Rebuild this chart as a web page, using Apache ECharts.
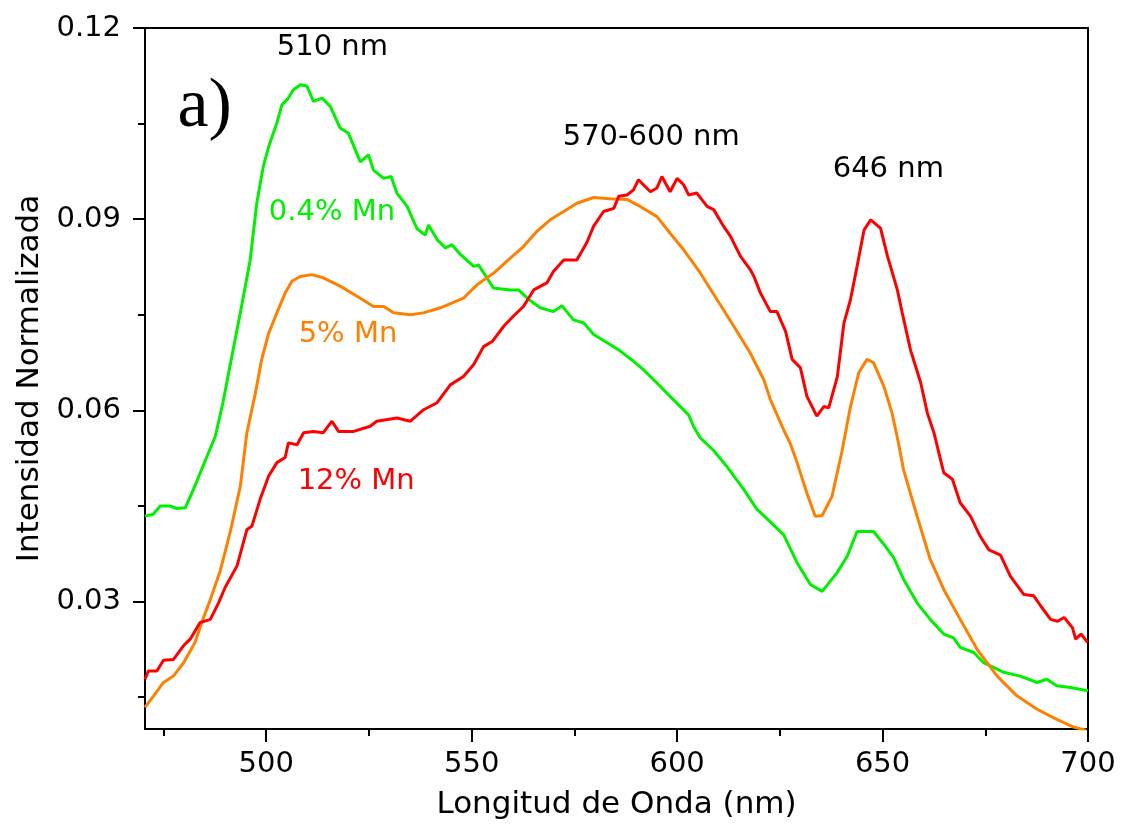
<!DOCTYPE html>
<html>
<head>
<meta charset="utf-8">
<title>Intensidad Normalizada vs Longitud de Onda</title>
<script src="https://cdn.jsdelivr.net/npm/echarts@6/dist/echarts.min.js"></script>
<style>
  html, body { margin: 0; padding: 0; background: #fff; }
  #chart { width: 1122px; height: 825px; }
</style>
</head>
<body>
<div id="chart"></div>
<script>
// Emission spectra for three Mn concentrations (wavelength in nm, normalized intensity)
const greenNm = [470.5,472.5,474.2,476.6,478.2,480.3,482.3,485.6,487.6,489.4,491.5,493.7,496.1,497.7,499.3,500.6,502.6,503.8,505.4,506.6,508.3,509.9,511.5,513.6,515.6,518.0,520.0,522.9,524.9,526.1,528.6,530.4,531.8,534.3,536.7,538.7,539.5,541.6,543.6,545.2,547.2,550.5,551.7,553.7,555.3,559.4,561.4,563.9,566.7,569.9,572.0,574.8,577.3,579.7,583.0,586.2,589.4,591.8,595.1,598.3,602.8,604.0,605.6,608.9,612.1,616.2,619.4,622.7,625.9,629.2,632.4,635.3,638.9,641.4,643.8,646.2,647.8,650.3,652.7,655.1,658.4,661.6,664.9,667.3,668.9,672.2,674.6,679.5,683.5,687.6,690.0,692.4,695.7,700.0];
const greenVal = [0.0434,0.0437,0.0450,0.0450,0.0446,0.0447,0.0476,0.0528,0.0559,0.0610,0.0680,0.0753,0.0836,0.0925,0.0983,0.1014,0.1051,0.1079,0.1090,0.1103,0.1111,0.1109,0.1085,0.1090,0.1077,0.1043,0.1035,0.0990,0.1001,0.0977,0.0964,0.0967,0.0941,0.0920,0.0885,0.0875,0.0891,0.0868,0.0855,0.0860,0.0845,0.0826,0.0828,0.0808,0.0792,0.0789,0.0789,0.0774,0.0761,0.0755,0.0764,0.0742,0.0737,0.0719,0.0706,0.0693,0.0677,0.0664,0.0643,0.0622,0.0593,0.0575,0.0557,0.0537,0.0512,0.0476,0.0445,0.0425,0.0405,0.0361,0.0327,0.0316,0.0345,0.0371,0.0410,0.0410,0.0410,0.0390,0.0369,0.0335,0.0298,0.0272,0.0249,0.0243,0.0228,0.0220,0.0204,0.0189,0.0183,0.0173,0.0178,0.0168,0.0165,0.0160];

const orangeNm = [470.5,472.6,475.0,477.4,479.9,482.7,484.3,486.4,488.8,491.2,493.7,495.3,497.3,498.9,500.6,502.6,504.6,506.3,508.3,511.1,513.9,518.0,522.1,526.1,528.6,531.0,535.1,538.3,542.4,545.0,548.0,551.3,555.3,559.4,562.6,565.9,569.1,572.4,575.6,579.7,583.7,587.8,591.0,595.1,598.3,601.6,605.6,609.7,613.8,617.8,621.1,622.7,625.9,627.6,629.2,631.6,633.6,635.3,637.7,640.1,642.2,644.2,646.2,647.8,650.3,652.3,653.9,655.1,658.4,661.6,664.9,668.9,673.0,677.9,682.7,687.6,692.4,696.5,699.5];
const orangeVal = [0.0134,0.0152,0.0173,0.0183,0.0204,0.0236,0.0267,0.0303,0.0348,0.0408,0.0481,0.0565,0.0625,0.0680,0.0721,0.0753,0.0784,0.0803,0.0810,0.0813,0.0808,0.0795,0.0779,0.0763,0.0763,0.0753,0.0750,0.0753,0.0761,0.0768,0.0776,0.0797,0.0815,0.0839,0.0857,0.0881,0.0899,0.0912,0.0925,0.0934,0.0932,0.0931,0.0920,0.0904,0.0878,0.0852,0.0816,0.0774,0.0732,0.0690,0.0648,0.0617,0.0570,0.0547,0.0518,0.0470,0.0434,0.0435,0.0465,0.0535,0.0606,0.0659,0.0680,0.0675,0.0638,0.0596,0.0548,0.0507,0.0434,0.0366,0.0319,0.0272,0.0225,0.0183,0.0152,0.0131,0.0115,0.0103,0.0098];

const redNm = [470.5,471.3,473.4,475.0,477.4,479.9,481.5,483.9,486.4,488.4,490.0,492.9,495.3,496.5,498.5,500.6,502.6,504.6,505.4,507.5,509.1,511.5,513.9,516.0,517.6,521.3,525.3,526.9,531.8,535.1,538.3,541.6,544.8,548.0,550.5,552.9,555.0,557.8,560.2,562.6,565.1,568.3,569.9,572.4,575.6,578.0,579.7,582.1,584.6,585.8,587.8,589.4,590.6,591.8,593.5,595.1,596.3,598.3,600.0,601.6,602.8,604.8,607.3,608.9,611.3,613.0,615.4,617.8,618.7,620.3,622.7,624.3,626.4,628.0,630.0,631.6,634.0,635.7,636.9,639.0,640.6,642.2,643.8,645.5,647.1,649.5,651.2,653.6,654.8,656.8,659.3,660.9,662.5,664.9,667.0,668.9,671.4,673.8,675.9,678.7,681.1,684.4,686.8,688.5,690.9,692.6,694.2,696.2,697.0,698.3,699.9];
const redVal = [0.0178,0.0191,0.0191,0.0208,0.0209,0.0231,0.0241,0.0267,0.0272,0.0298,0.0322,0.0356,0.0413,0.0418,0.0460,0.0497,0.0518,0.0526,0.0549,0.0546,0.0565,0.0567,0.0565,0.0583,0.0567,0.0567,0.0575,0.0583,0.0588,0.0583,0.0601,0.0612,0.0640,0.0653,0.0672,0.0700,0.0708,0.0732,0.0748,0.0763,0.0789,0.0800,0.0818,0.0836,0.0836,0.0863,0.0889,0.0912,0.0917,0.0936,0.0938,0.0946,0.0962,0.0954,0.0943,0.0949,0.0967,0.0943,0.0964,0.0954,0.0938,0.0941,0.0920,0.0915,0.0889,0.0873,0.0842,0.0821,0.0810,0.0784,0.0755,0.0755,0.0724,0.0680,0.0667,0.0622,0.0591,0.0606,0.0604,0.0653,0.0737,0.0774,0.0826,0.0883,0.0899,0.0886,0.0842,0.0789,0.0753,0.0695,0.0643,0.0596,0.0565,0.0502,0.0492,0.0455,0.0434,0.0402,0.0381,0.0373,0.0340,0.0311,0.0309,0.0293,0.0272,0.0269,0.0275,0.0259,0.0241,0.0249,0.0236];

// Axis ticks
const xMajorTicks = [500, 550, 600, 650, 700];
const xMinorTicks = [475, 525, 575, 625, 675];
const yMajorTicks = [0.03, 0.06, 0.09, 0.12];
const yMinorTicks = [0.015, 0.045, 0.075, 0.105];

// Peak and series annotations, anchored in data coordinates
const annoText = ['510 nm', '570-600 nm', '646 nm', '0.4% Mn', '5% Mn', '12% Mn', 'a)'];
const annoNm   = [516.1, 593.7, 651.4, 516.0, 519.9, 521.9, 485.0];
const annoVal  = [0.1170, 0.1028, 0.0978, 0.0911, 0.0719, 0.0489, 0.1075];

const COLORS = { green: '#00f000', orange: '#ff8000', red: '#ff0000' };
const annoColors = ['#000', '#000', '#000', COLORS.green, COLORS.orange, COLORS.red, '#000'];

const zip = (xs, ys) => xs.map((x, i) => [x, ys[i]]);

const X_MIN = 470.5, X_MAX = 700, Y_MIN = 0.01, Y_MAX = 0.12;
const FONT = 'DejaVu Sans';

const chart = echarts.init(document.getElementById('chart'), null, { renderer: 'canvas' });

const lineSeries = (name, xs, ys, color) => ({
  name, type: 'line', data: zip(xs, ys),
  showSymbol: false, symbol: 'none', smooth: false,
  lineStyle: { color, width: 3, opacity: 1 }, itemStyle: { color },
  xAxisIndex: 0, yAxisIndex: 0, silent: true, animation: false
});

const annoData = annoText.map((t, i) => ({
  value: [annoNm[i], annoVal[i], t],
  label: t === 'a)'
    ? { color: annoColors[i], fontFamily: 'Liberation Serif', fontSize: 70 }
    : { color: annoColors[i], fontFamily: FONT, fontSize: 29 }
}));

chart.setOption({
  animation: false,
  backgroundColor: '#fff',
  textStyle: { fontFamily: FONT },
  grid: {
    left: 145, right: 34, top: 28, bottom: 95,
    show: true, borderColor: '#000', borderWidth: 2, backgroundColor: 'transparent'
  },
  xAxis: [
    {
      type: 'value', min: X_MIN, max: X_MAX, position: 'bottom',
      name: 'Longitud de Onda (nm)', nameLocation: 'middle', nameGap: 60,
      nameTextStyle: { fontFamily: FONT, fontSize: 31, color: '#000' },
      axisLine: { show: true, onZero: false, lineStyle: { color: '#000', width: 2 } },
      axisTick: { show: true, customValues: xMajorTicks, length: 13, lineStyle: { color: '#000', width: 2 } },
      axisLabel: { show: true, customValues: xMajorTicks, margin: 21, fontFamily: FONT, fontSize: 29, color: '#000',
                   formatter: v => String(Math.round(v)) },
      splitLine: { show: false }
    },
    {
      type: 'value', min: X_MIN, max: X_MAX, position: 'bottom',
      axisLine: { show: false, onZero: false },
      axisTick: { show: true, customValues: xMinorTicks, length: 7, lineStyle: { color: '#000', width: 2 } },
      axisLabel: { show: false },
      splitLine: { show: false }
    }
  ],
  yAxis: [
    {
      type: 'value', min: Y_MIN, max: Y_MAX, position: 'left',
      name: 'Intensidad Normalizada', nameLocation: 'middle', nameGap: 98, nameRotate: 90,
      nameTextStyle: { fontFamily: FONT, fontSize: 31, color: '#000' },
      axisLine: { show: true, onZero: false, lineStyle: { color: '#000', width: 2 } },
      axisTick: { show: true, customValues: yMajorTicks, length: 12, lineStyle: { color: '#000', width: 2 } },
      axisLabel: { show: true, customValues: yMajorTicks, margin: 24, fontFamily: FONT, fontSize: 29, color: '#000',
                   formatter: v => v.toFixed(2) },
      splitLine: { show: false }
    },
    {
      type: 'value', min: Y_MIN, max: Y_MAX, position: 'left',
      axisLine: { show: false, onZero: false },
      axisTick: { show: true, customValues: yMinorTicks, length: 7, lineStyle: { color: '#000', width: 2 } },
      axisLabel: { show: false },
      splitLine: { show: false }
    }
  ],
  series: [
    lineSeries('0.4% Mn', greenNm, greenVal, COLORS.green),
    lineSeries('5% Mn', orangeNm, orangeVal, COLORS.orange),
    lineSeries('12% Mn', redNm, redVal, COLORS.red),
    {
      name: 'etiquetas', type: 'scatter', data: annoData,
      xAxisIndex: 0, yAxisIndex: 0, symbolSize: 0, silent: true, clip: false,
      itemStyle: { opacity: 1 },
      label: { show: true, position: 'inside', opacity: 1, textBorderWidth: 0,
               formatter: p => p.value[2] },
      z: 5
    }
  ]
});
</script>
</body>
</html>
